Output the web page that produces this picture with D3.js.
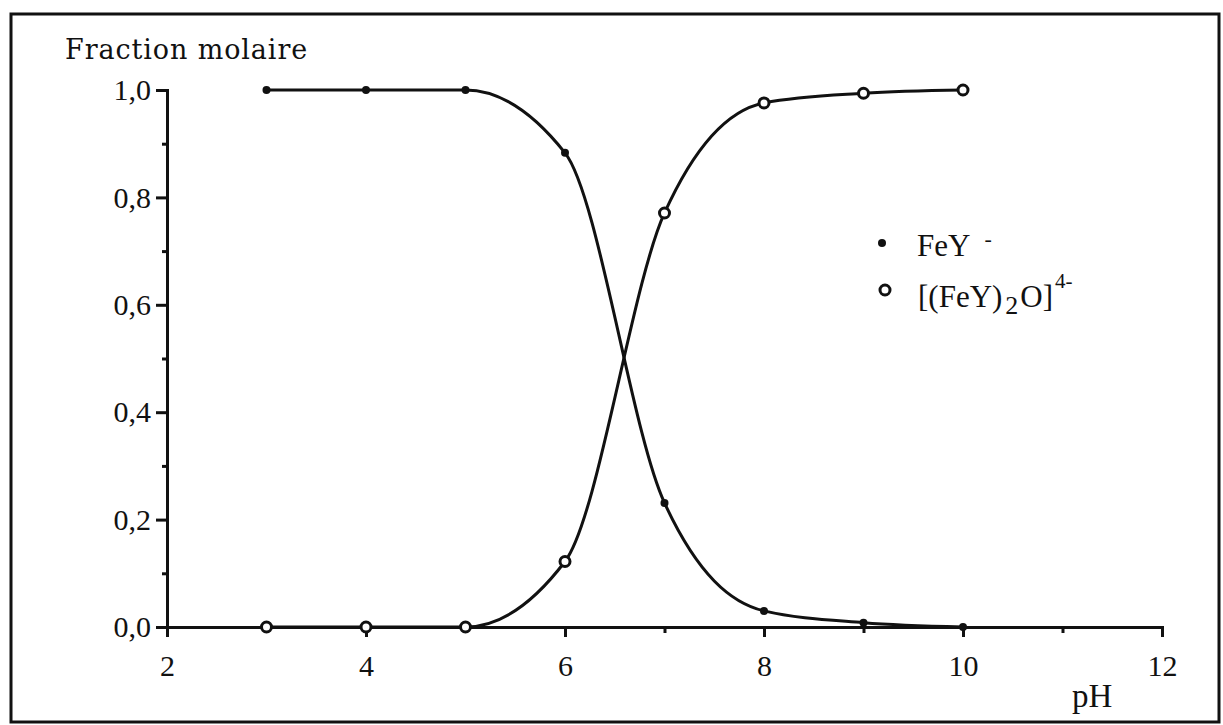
<!DOCTYPE html>
<html>
<head>
<meta charset="utf-8">
<script src="https://cdn.jsdelivr.net/npm/d3@7"></script>
<style>
    body { margin: 0; background: #fff; }
</style>
</head>
<body>
<script>
// pH values and molar fractions
var ph = [3, 4, 5, 6, 7, 8, 9, 10];
var feY = [1.0, 1.0, 1.0, 0.883, 0.231, 0.03, 0.008, 0.0];
var dimer = [0.0, 0.0, 0.0, 0.122, 0.771, 0.976, 0.994, 1.0];

var xMajorTicks = [2, 4, 6, 8, 10, 12];
var xMinorTicks = [3, 5, 7, 9, 11];
var yMajorTicks = [0, 0.2, 0.4, 0.6, 0.8, 1.0];
var yMinorTicks = [0.1, 0.3, 0.5, 0.7, 0.9];

var width = 1223,
    height = 725;

var x = d3.scaleLinear()
    .domain([2, 12])
    .range([167, 1162]);

var y = d3.scaleLinear()
    .domain([0, 1])
    .range([627, 90]);

var svg = d3.select("body")
    .append("svg")
    .attr("width", width)
    .attr("height", height);

// outer frame
svg.append("rect")
    .attr("x", 11)
    .attr("y", 14)
    .attr("width", 1208)
    .attr("height", 708)
    .attr("fill", "none")
    .attr("stroke", "#111")
    .attr("stroke-width", 3);

var labelFont = "'Liberation Serif', serif";

// y axis, major and minor ticks
svg.append("g")
    .attr("transform", "translate(" + x(2) + ",0)")
    .call(d3.axisLeft(y)
        .tickValues(yMajorTicks)
        .tickSize(11)
        .tickPadding(5)
        .tickFormat(function (d) { return d3.format(".1f")(d).replace(".", ","); }));

svg.append("g")
    .attr("transform", "translate(" + x(2) + ",0)")
    .call(d3.axisLeft(y)
        .tickValues(yMinorTicks)
        .tickSize(5)
        .tickFormat(""))
    .select(".domain").remove();

// x axis, major and minor ticks
svg.append("g")
    .attr("transform", "translate(0," + y(0) + ")")
    .call(d3.axisBottom(x)
        .tickValues(xMajorTicks)
        .tickSize(10)
        .tickPadding(18));

svg.append("g")
    .attr("transform", "translate(0," + y(0) + ")")
    .call(d3.axisBottom(x)
        .tickValues(xMinorTicks)
        .tickSize(6)
        .tickFormat(""))
    .select(".domain").remove();

svg.selectAll(".domain")
    .attr("stroke", "#111")
    .attr("stroke-width", 3);

svg.selectAll(".tick line")
    .attr("stroke", "#111")
    .attr("stroke-width", 3);

svg.selectAll(".tick text")
    .attr("font-family", labelFont)
    .attr("font-size", "30px")
    .attr("fill", "#111");

// titles
svg.append("text")
    .text("Fraction molaire")
    .attr("x", 65)
    .attr("y", 59)
    .attr("font-family", "'DejaVu Serif', serif")
    .attr("font-size", "27px")
    .attr("letter-spacing", "0.9px")
    .attr("fill", "#111");

svg.append("text")
    .text("pH")
    .attr("x", 1072)
    .attr("y", 707)
    .attr("font-family", labelFont)
    .attr("font-size", "33px")
    .attr("fill", "#111");

// curves
var line = d3.line()
    .x(function (d) { return x(d[0]); })
    .y(function (d) { return y(d[1]); })
    .curve(d3.curveMonotoneX);

var feYData = ph.map(function (p, i) { return [p, feY[i]]; });
var dimerData = ph.map(function (p, i) { return [p, dimer[i]]; });

svg.append("path")
    .datum(feYData)
    .attr("d", line)
    .attr("fill", "none")
    .attr("stroke", "#111")
    .attr("stroke-width", 3);

svg.append("path")
    .datum(dimerData)
    .attr("d", line)
    .attr("fill", "none")
    .attr("stroke", "#111")
    .attr("stroke-width", 3);

// markers
svg.selectAll("circle.fey")
    .data(feYData)
    .enter()
    .append("circle")
    .attr("class", "fey")
    .attr("cx", function (d) { return x(d[0]); })
    .attr("cy", function (d) { return y(d[1]); })
    .attr("r", 4)
    .attr("fill", "#111");

svg.selectAll("circle.dimer")
    .data(dimerData)
    .enter()
    .append("circle")
    .attr("class", "dimer")
    .attr("cx", function (d) { return x(d[0]); })
    .attr("cy", function (d) { return y(d[1]); })
    .attr("r", 5)
    .attr("fill", "#fff")
    .attr("stroke", "#111")
    .attr("stroke-width", 3);

// legend
var legendFont = "'Liberation Serif', serif";

svg.append("circle")
    .attr("cx", 882)
    .attr("cy", 243)
    .attr("r", 4)
    .attr("fill", "#111");

var t1 = svg.append("text")
    .attr("x", 917)
    .attr("y", 256)
    .attr("font-family", legendFont)
    .attr("font-size", "31px")
    .attr("fill", "#111");
t1.append("tspan").text("FeY");
t1.append("tspan")
    .text("-")
    .attr("dx", 14)
    .attr("dy", -10)
    .attr("font-size", "22px");

svg.append("circle")
    .attr("cx", 885)
    .attr("cy", 290)
    .attr("r", 5)
    .attr("fill", "#fff")
    .attr("stroke", "#111")
    .attr("stroke-width", 3);

var t2 = svg.append("text")
    .attr("x", 918)
    .attr("y", 307)
    .attr("font-family", legendFont)
    .attr("font-size", "31px")
    .attr("fill", "#111");
t2.append("tspan").text("[(FeY)");
t2.append("tspan")
    .text("2")
    .attr("dx", 3)
    .attr("dy", 7)
    .attr("font-size", "26px");
t2.append("tspan")
    .text("O]")
    .attr("dx", 2)
    .attr("dy", -7);
t2.append("tspan")
    .text("4-")
    .attr("dx", 2)
    .attr("dy", -19)
    .attr("font-size", "21px");
</script>
</body>
</html>
